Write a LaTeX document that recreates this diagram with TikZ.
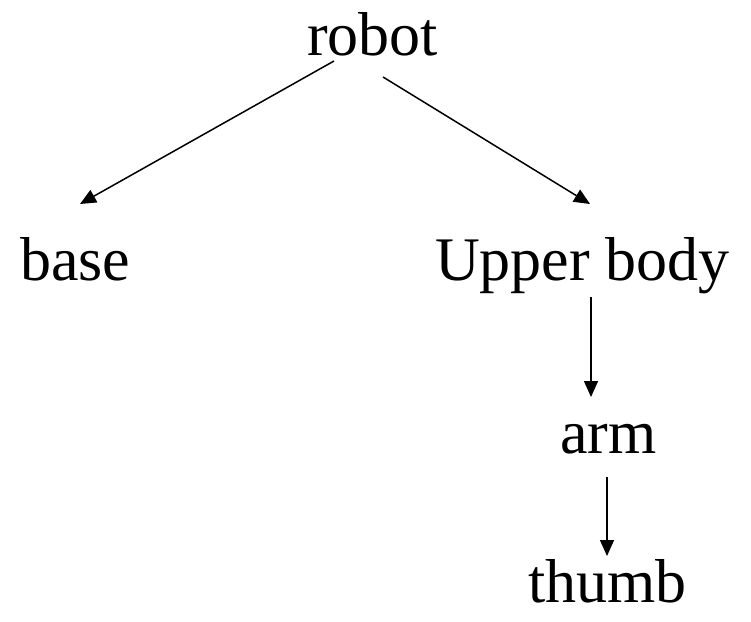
\documentclass[tikz,border=0pt]{standalone}
\usepackage{fontspec}
\setmainfont{Liberation Serif}
\usetikzlibrary{arrows.meta,calc}
\tikzset{
  lbl/.style={inner sep=0pt, anchor=base west, font=\fontsize{62}{74}\selectfont},
  conn/.style={line width=1.5pt, -{Triangle[length=16pt,width=14pt]}}
}
\begin{document}
\begin{tikzpicture}[x=1pt,y=-1pt]
\useasboundingbox (0,0) rectangle (751,621);
\node[lbl] (robot) at (307,55) {robot};
\node[lbl] (base) at (20,280) {base};
\node[lbl] (upper) at (435,280) {Upper body};
\node[lbl] (arm) at (560,453) {arm};
\node[lbl] (thumb) at (528,602) {thumb};
\draw[conn] ($(robot.base west)+(27,6)$) -- ($(base.base west)+(60,-76)$);
\draw[conn] ($(robot.base west)+(76,22)$) -- ($(upper.base west)+(155,-76)$);
\draw[conn] ($(upper.base west)+(156,17)$) -- ($(arm.base west)+(31,-56)$);
\draw[conn] ($(arm.base west)+(47,24)$) -- ($(thumb.base west)+(79,-46)$);
\end{tikzpicture}
\end{document}
